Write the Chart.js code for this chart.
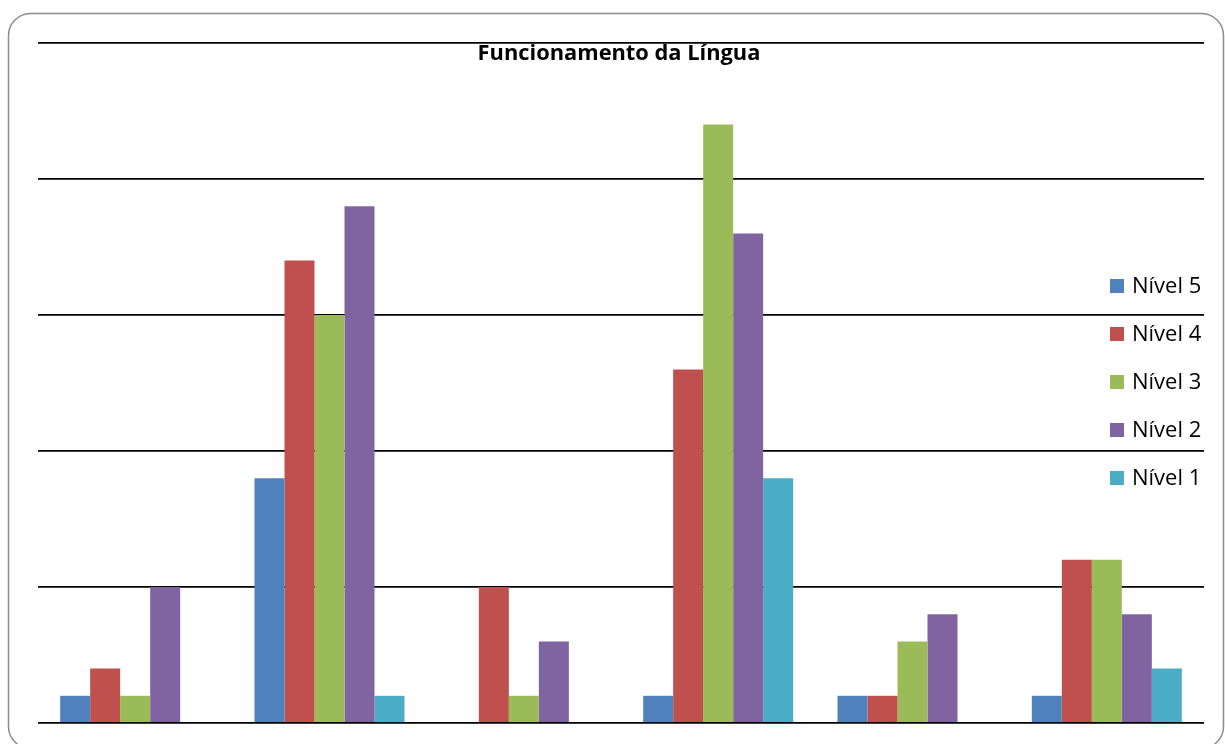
<!DOCTYPE html>
<html>
<head>
<meta charset="utf-8">
<script src="https://cdn.jsdelivr.net/npm/chart.js@4.4.0/dist/chart.umd.min.js"></script>
<style>
html,body{margin:0;padding:0;background:#fff;}
#wrap{position:relative;width:1225px;height:744px;}
</style>
</head>
<body>
<div id="wrap"><canvas id="c" width="1225" height="744"></canvas></div>
<script>
const chartTitle = "Funcionamento da Língua";
const categories = ["1", "2", "3", "4", "5", "6"];
const seriesNames = ["Nível 5", "Nível 4", "Nível 3", "Nível 2", "Nível 1"];
const nivel5 = [1, 9, 0, 1, 1, 1];
const nivel4 = [2, 17, 5, 13, 1, 6];
const nivel3 = [1, 15, 1, 22, 3, 6];
const nivel2 = [5, 19, 3, 18, 4, 4];
const nivel1 = [0, 1, 0, 9, 0, 2];
const seriesColors = ["#4F81BD", "#C0504D", "#9BBB59", "#8064A2", "#4BACC6"];
const yMax = 25;
const yStep = 5;

const seriesValues = [nivel5, nivel4, nivel3, nivel2, nivel1];

const framePlugin = {
  id: 'frame',
  beforeDraw(chart) {
    const ctx = chart.ctx;
    ctx.save();
    ctx.fillStyle = '#fff';
    ctx.fillRect(0, 0, chart.width, chart.height);
    ctx.strokeStyle = '#8c8c8c';
    ctx.lineWidth = 1.5;
    ctx.beginPath();
    ctx.roundRect(8.5, 13.5, 1215, 735, 22);
    ctx.stroke();
    ctx.restore();
  }
};

const overlayPlugin = {
  id: 'overlay',
  afterDraw(chart) {
    const ctx = chart.ctx;
    ctx.save();
    // title
    ctx.fillStyle = '#000';
    ctx.textAlign = 'center';
    ctx.textBaseline = 'middle';
    let fs = 19;
    ctx.font = 'bold ' + fs + 'px "Open Sans", Lato, sans-serif';
    const w = ctx.measureText(chartTitle).width;
    fs = fs * 283 / w;
    ctx.font = 'bold ' + fs.toFixed(2) + 'px "Open Sans", Lato, sans-serif';
    ctx.fillText(chartTitle, 619, 54);
    // legend
    ctx.textAlign = 'left';
    let lfs = 19;
    ctx.font = lfs + 'px "Open Sans", Lato, sans-serif';
    const lw = ctx.measureText(chart.data.datasets[0].label).width;
    lfs = Math.min(22, lfs * 72 / lw);
    ctx.font = lfs.toFixed(2) + 'px "Open Sans", Lato, sans-serif';
    chart.data.datasets.forEach((ds, i) => {
      const y = 286 + i * 48;
      ctx.fillStyle = ds.backgroundColor;
      ctx.fillRect(1110, y - 7, 14, 14);
      ctx.fillStyle = '#000';
      ctx.fillText(ds.label, 1132, y + 1);
    });
    ctx.restore();
  }
};

new Chart(document.getElementById('c'), {
  type: 'bar',
  data: {
    labels: categories,
    datasets: seriesNames.map((name, i) => ({
      label: name,
      data: seriesValues[i],
      backgroundColor: seriesColors[i],
      borderWidth: 0
    }))
  },
  options: {
    responsive: false,
    animation: false,
    devicePixelRatio: 1,
    layout: { padding: { left: 38, right: 21, top: 43, bottom: 21 } },
    datasets: { bar: { categoryPercentage: 0.772, barPercentage: 1.0 } },
    plugins: {
      legend: { display: false },
      title: { display: false },
      tooltip: { enabled: false }
    },
    scales: {
      x: {
        ticks: { display: false },
        grid: { display: false, drawTicks: false },
        border: { display: false }
      },
      y: {
        min: 0, max: yMax,
        ticks: { display: false, stepSize: yStep },
        grid: { color: '#000', lineWidth: 1.8, drawTicks: false },
        border: { display: false }
      }
    }
  },
  plugins: [framePlugin, overlayPlugin]
});
</script>
</body>
</html>
